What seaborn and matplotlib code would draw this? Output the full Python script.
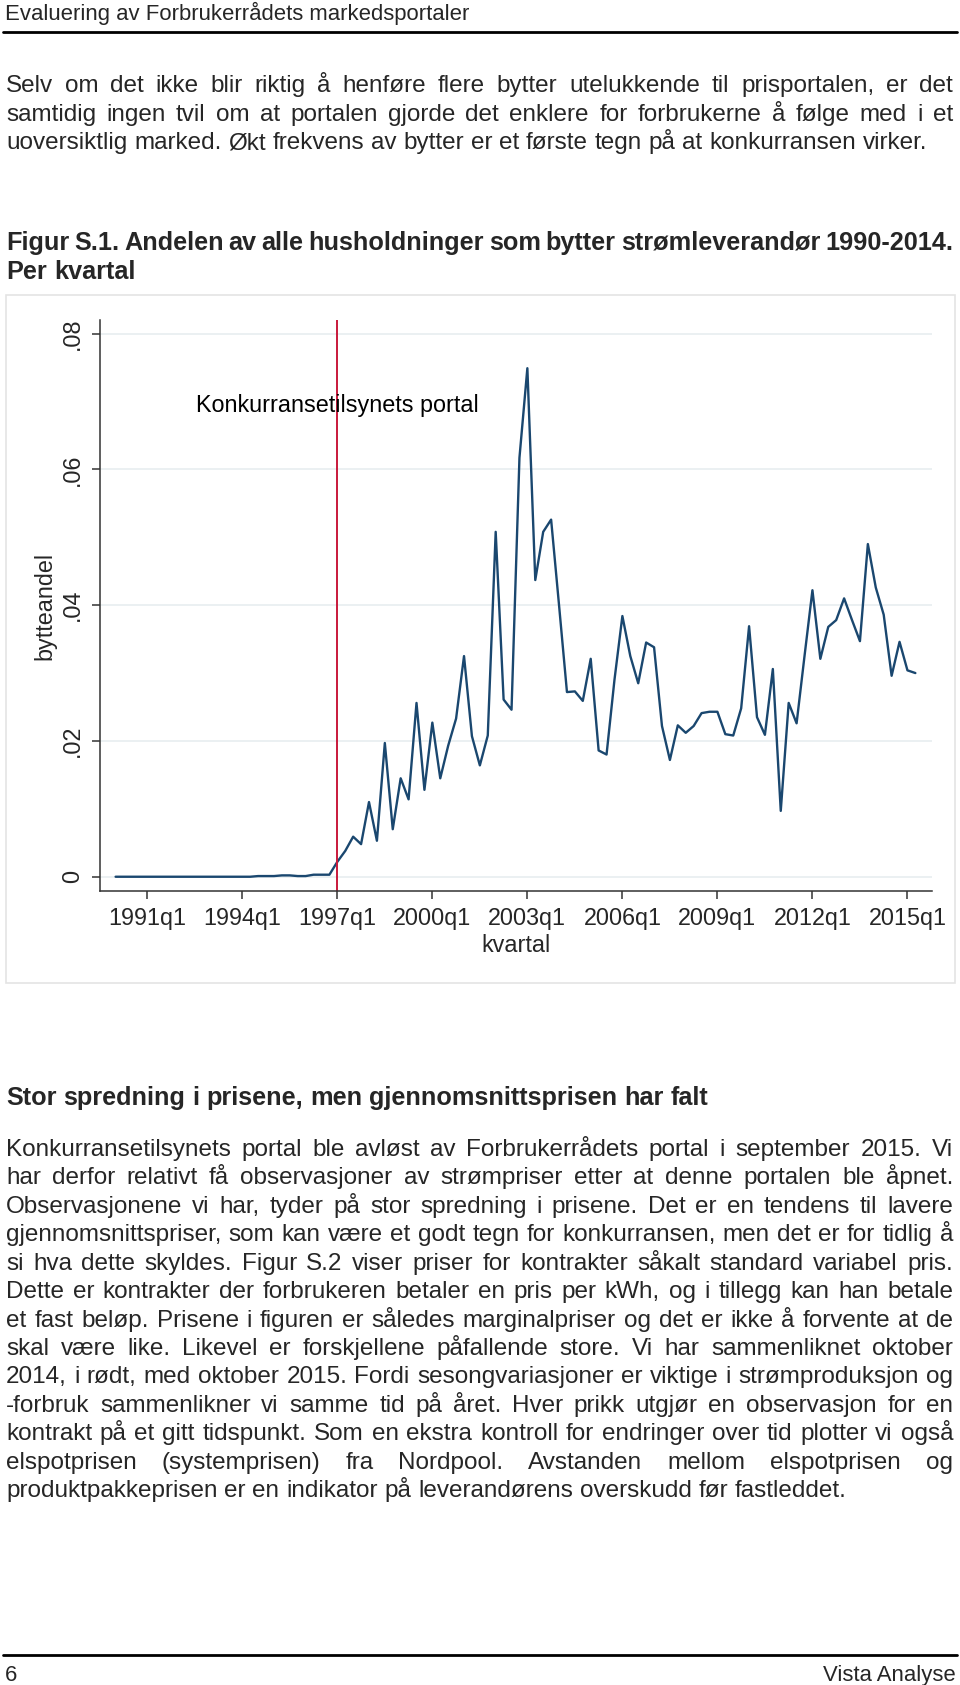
import matplotlib
matplotlib.use("Agg")
import matplotlib.pyplot as plt
import seaborn as sns
import pandas as pd
from matplotlib import font_manager
from matplotlib.patches import Rectangle
from matplotlib.lines import Line2D

# Andel husholdninger som bytter strømleverandør, per kvartal fra 1990q1
start_year = 1990
bytteandel = [
    0.0000, 0.0000, 0.0000, 0.0000, 0.0000, 0.0000, 0.0000, 0.0000,   # 1990-1991
    0.0000, 0.0000, 0.0000, 0.0000, 0.0000, 0.0000, 0.0000, 0.0000,   # 1992-1993
    0.0000, 0.0000, 0.0001, 0.0001, 0.0001, 0.0002, 0.0002, 0.0001,   # 1994-1995
    0.0001, 0.0003, 0.0003, 0.0003, 0.0022, 0.0038, 0.0059, 0.0048,   # 1996-1997
    0.0110, 0.0053, 0.0197, 0.0070, 0.0145, 0.0114, 0.0256, 0.0128,   # 1998-1999
    0.0227, 0.0145, 0.0193, 0.0233, 0.0325, 0.0207, 0.0164, 0.0208,   # 2000-2001
    0.0508, 0.0261, 0.0246, 0.0617, 0.0749, 0.0437, 0.0508, 0.0526,   # 2002-2003
    0.0400, 0.0272, 0.0273, 0.0259, 0.0321, 0.0186, 0.0180, 0.0290,   # 2004-2005
    0.0384, 0.0325, 0.0285, 0.0345, 0.0338, 0.0222, 0.0172, 0.0223,   # 2006-2007
    0.0212, 0.0222, 0.0241, 0.0243, 0.0243, 0.0210, 0.0208, 0.0248,   # 2008-2009
    0.0369, 0.0235, 0.0209, 0.0306, 0.0097, 0.0256, 0.0226, 0.0325,   # 2010-2011
    0.0422, 0.0321, 0.0368, 0.0378, 0.0410, 0.0378, 0.0347, 0.0490,   # 2012-2013
    0.0426, 0.0386, 0.0296, 0.0346, 0.0304, 0.0300,                   # 2014-2015
]
xtick_labels = ["1991q1", "1994q1", "1997q1", "2000q1", "2003q1",
                "2006q1", "2009q1", "2012q1", "2015q1"]
ytick_values = [0, 0.02, 0.04, 0.06, 0.08]
ytick_labels = ["0", ".02", ".04", ".06", ".08"]
portal_start = "1997q1"
portal_label = "Konkurransetilsynets portal"

header_text = "Evaluering av Forbrukerrådets markedsportaler"
footer_left = "6"
footer_right = "Vista Analyse"
para1 = [
    "Selv om det ikke blir riktig å henføre flere bytter utelukkende til prisportalen, er det",
    "samtidig ingen tvil om at portalen gjorde det enklere for forbrukerne å følge med i et",
    "uoversiktlig marked. Økt frekvens av bytter er et første tegn på at konkurransen virker.",
]
fig_caption = [
    "Figur S.1. Andelen av alle husholdninger som bytter strømleverandør 1990-2014.",
    "Per kvartal",
]
heading2 = "Stor spredning i prisene, men gjennomsnittsprisen har falt"
para2 = [
    "Konkurransetilsynets portal ble avløst av Forbrukerrådets portal i september 2015. Vi",
    "har derfor relativt få observasjoner av strømpriser etter at denne portalen ble åpnet.",
    "Observasjonene vi har, tyder på stor spredning i prisene. Det er en tendens til lavere",
    "gjennomsnittspriser, som kan være et godt tegn for konkurransen, men det er for tidlig å",
    "si hva dette skyldes. Figur S.2 viser priser for kontrakter såkalt standard variabel pris.",
    "Dette er kontrakter der forbrukeren betaler en pris per kWh, og i tillegg kan han betale",
    "et fast beløp. Prisene i figuren er således marginalpriser og det er ikke å forvente at de",
    "skal være like. Likevel er forskjellene påfallende store. Vi har sammenliknet oktober",
    "2014, i rødt, med oktober 2015. Fordi sesongvariasjoner er viktige i strømproduksjon og",
    "-forbruk sammenlikner vi samme tid på året. Hver prikk utgjør en observasjon for en",
    "kontrakt på et gitt tidspunkt. Som en ekstra kontroll for endringer over tid plotter vi også",
    "elspotprisen (systemprisen) fra Nordpool. Avstanden mellom elspotprisen og",
    "produktpakkeprisen er en indikator på leverandørens overskudd før fastleddet.",
]


def q_index(label):
    year, q = label.split("q")
    return (int(year) - start_year) * 4 + int(q) - 1


df = pd.DataFrame({
    "t": range(len(bytteandel)),
    "kvartal": [f"{start_year + i // 4}q{i % 4 + 1}" for i in range(len(bytteandel))],
    "bytteandel": bytteandel,
})

sns.set_style("white")
names = {f.name for f in font_manager.fontManager.ttflist}
BODY = "Liberation Sans Narrow" if "Liberation Sans Narrow" in names else "Liberation Sans"
plt.rcParams["font.family"] = ["Liberation Sans", "DejaVu Sans"]

W, H = 960, 1685
fig = plt.figure(figsize=(W / 100, H / 100), dpi=100)
renderer = fig.canvas.get_renderer()


def fx(x):
    return x / W


def fy(y):
    return 1 - y / H


def text_width(s, size, weight="normal"):
    t = fig.text(0, 0, s, fontsize=size, family=BODY, fontweight=weight)
    w = t.get_window_extent(renderer).width
    t.remove()
    return w


def fit_size(s, width, weight="normal"):
    return 10 * width / text_width(s, 10, weight)


def draw_line(s, y, size, weight="normal", justify=True, x0=6, x1=953):
    words = s.split(" ")
    widths = [text_width(w, size, weight) for w in words]
    space = text_width("a a", size, weight) - text_width("aa", size, weight)
    gap = (x1 - x0 - sum(widths)) / (len(words) - 1) if justify and len(words) > 1 else space
    x = x0
    for w, wd in zip(words, widths):
        fig.text(fx(x), fy(y), w, fontsize=size, family=BODY, fontweight=weight,
                 ha="left", va="baseline")
        x += wd + gap


def draw_paragraph(lines, y0, step, size, weight="normal"):
    for i, s in enumerate(lines):
        draw_line(s, y0 + i * step, size, weight, justify=(i < len(lines) - 1))


def hrule(y, lw=2.0):
    fig.add_artist(Line2D([fx(3), fx(957)], [fy(y), fy(y)], color="black", lw=lw,
                          transform=fig.transFigure))


# sizes fitted to the widths of unstretched lines
body_size = fit_size(para2[-1], 846)
bold_size = fit_size(heading2, 704, "bold")
small_size = fit_size(header_text, 465)

fig.text(fx(5), fy(20), header_text, fontsize=small_size, family=BODY, va="baseline")
hrule(32)
draw_paragraph(para1, 92, 28.6, body_size)
draw_paragraph(fig_caption, 250, 29, bold_size, "bold")
draw_line(heading2, 1105, bold_size, "bold", justify=False)
draw_paragraph(para2, 1156, 28.42, body_size)
hrule(1655)
fig.text(fx(5), fy(1681), footer_left, fontsize=small_size, family=BODY, va="baseline")
fig.text(fx(956), fy(1681), footer_right, fontsize=small_size, family=BODY,
         va="baseline", ha="right")

# chart frame
fig.add_artist(Rectangle((fx(6), fy(983)), (955 - 6) / W, (983 - 295) / H,
                         transform=fig.transFigure, fill=False,
                         edgecolor="#e4e4e4", lw=1.2))

ax = fig.add_axes([fx(100), fy(891), (932 - 100) / W, (891 - 320) / H])
sns.lineplot(data=df, x="t", y="bytteandel", ax=ax, color="#1a476f", linewidth=1.7)
ax.axvline(q_index(portal_start), color="#c9193b", lw=1.4)
ax.text(10.2, 0.0694, portal_label, fontsize=16.8, ha="left", va="center", color="black")

ax.set_xlim(-1.97, 103.1)
ax.set_ylim(-0.0021, 0.0820)
ax.set_xticks([q_index(s) for s in xtick_labels])
ax.set_xticklabels(xtick_labels)
ax.set_yticks(ytick_values)
ax.set_yticklabels(ytick_labels, rotation=90, va="center")
ax.yaxis.grid(True, color="#e9eff1", lw=1.3)
ax.xaxis.grid(False)
ax.set_axisbelow(True)
for side in ["top", "right"]:
    ax.spines[side].set_visible(False)
for side in ["left", "bottom"]:
    ax.spines[side].set_color("#333333")
    ax.spines[side].set_linewidth(1.1)
ax.tick_params(bottom=True, left=True, direction="out", length=6, width=1.1,
               color="#333333", labelsize=16.8, pad=5.5)
ax.set_xlabel("kvartal", fontsize=16.8, labelpad=3)
ax.set_ylabel("bytteandel", fontsize=16.8, labelpad=3.5)

fig.savefig("out.png", dpi=100)
